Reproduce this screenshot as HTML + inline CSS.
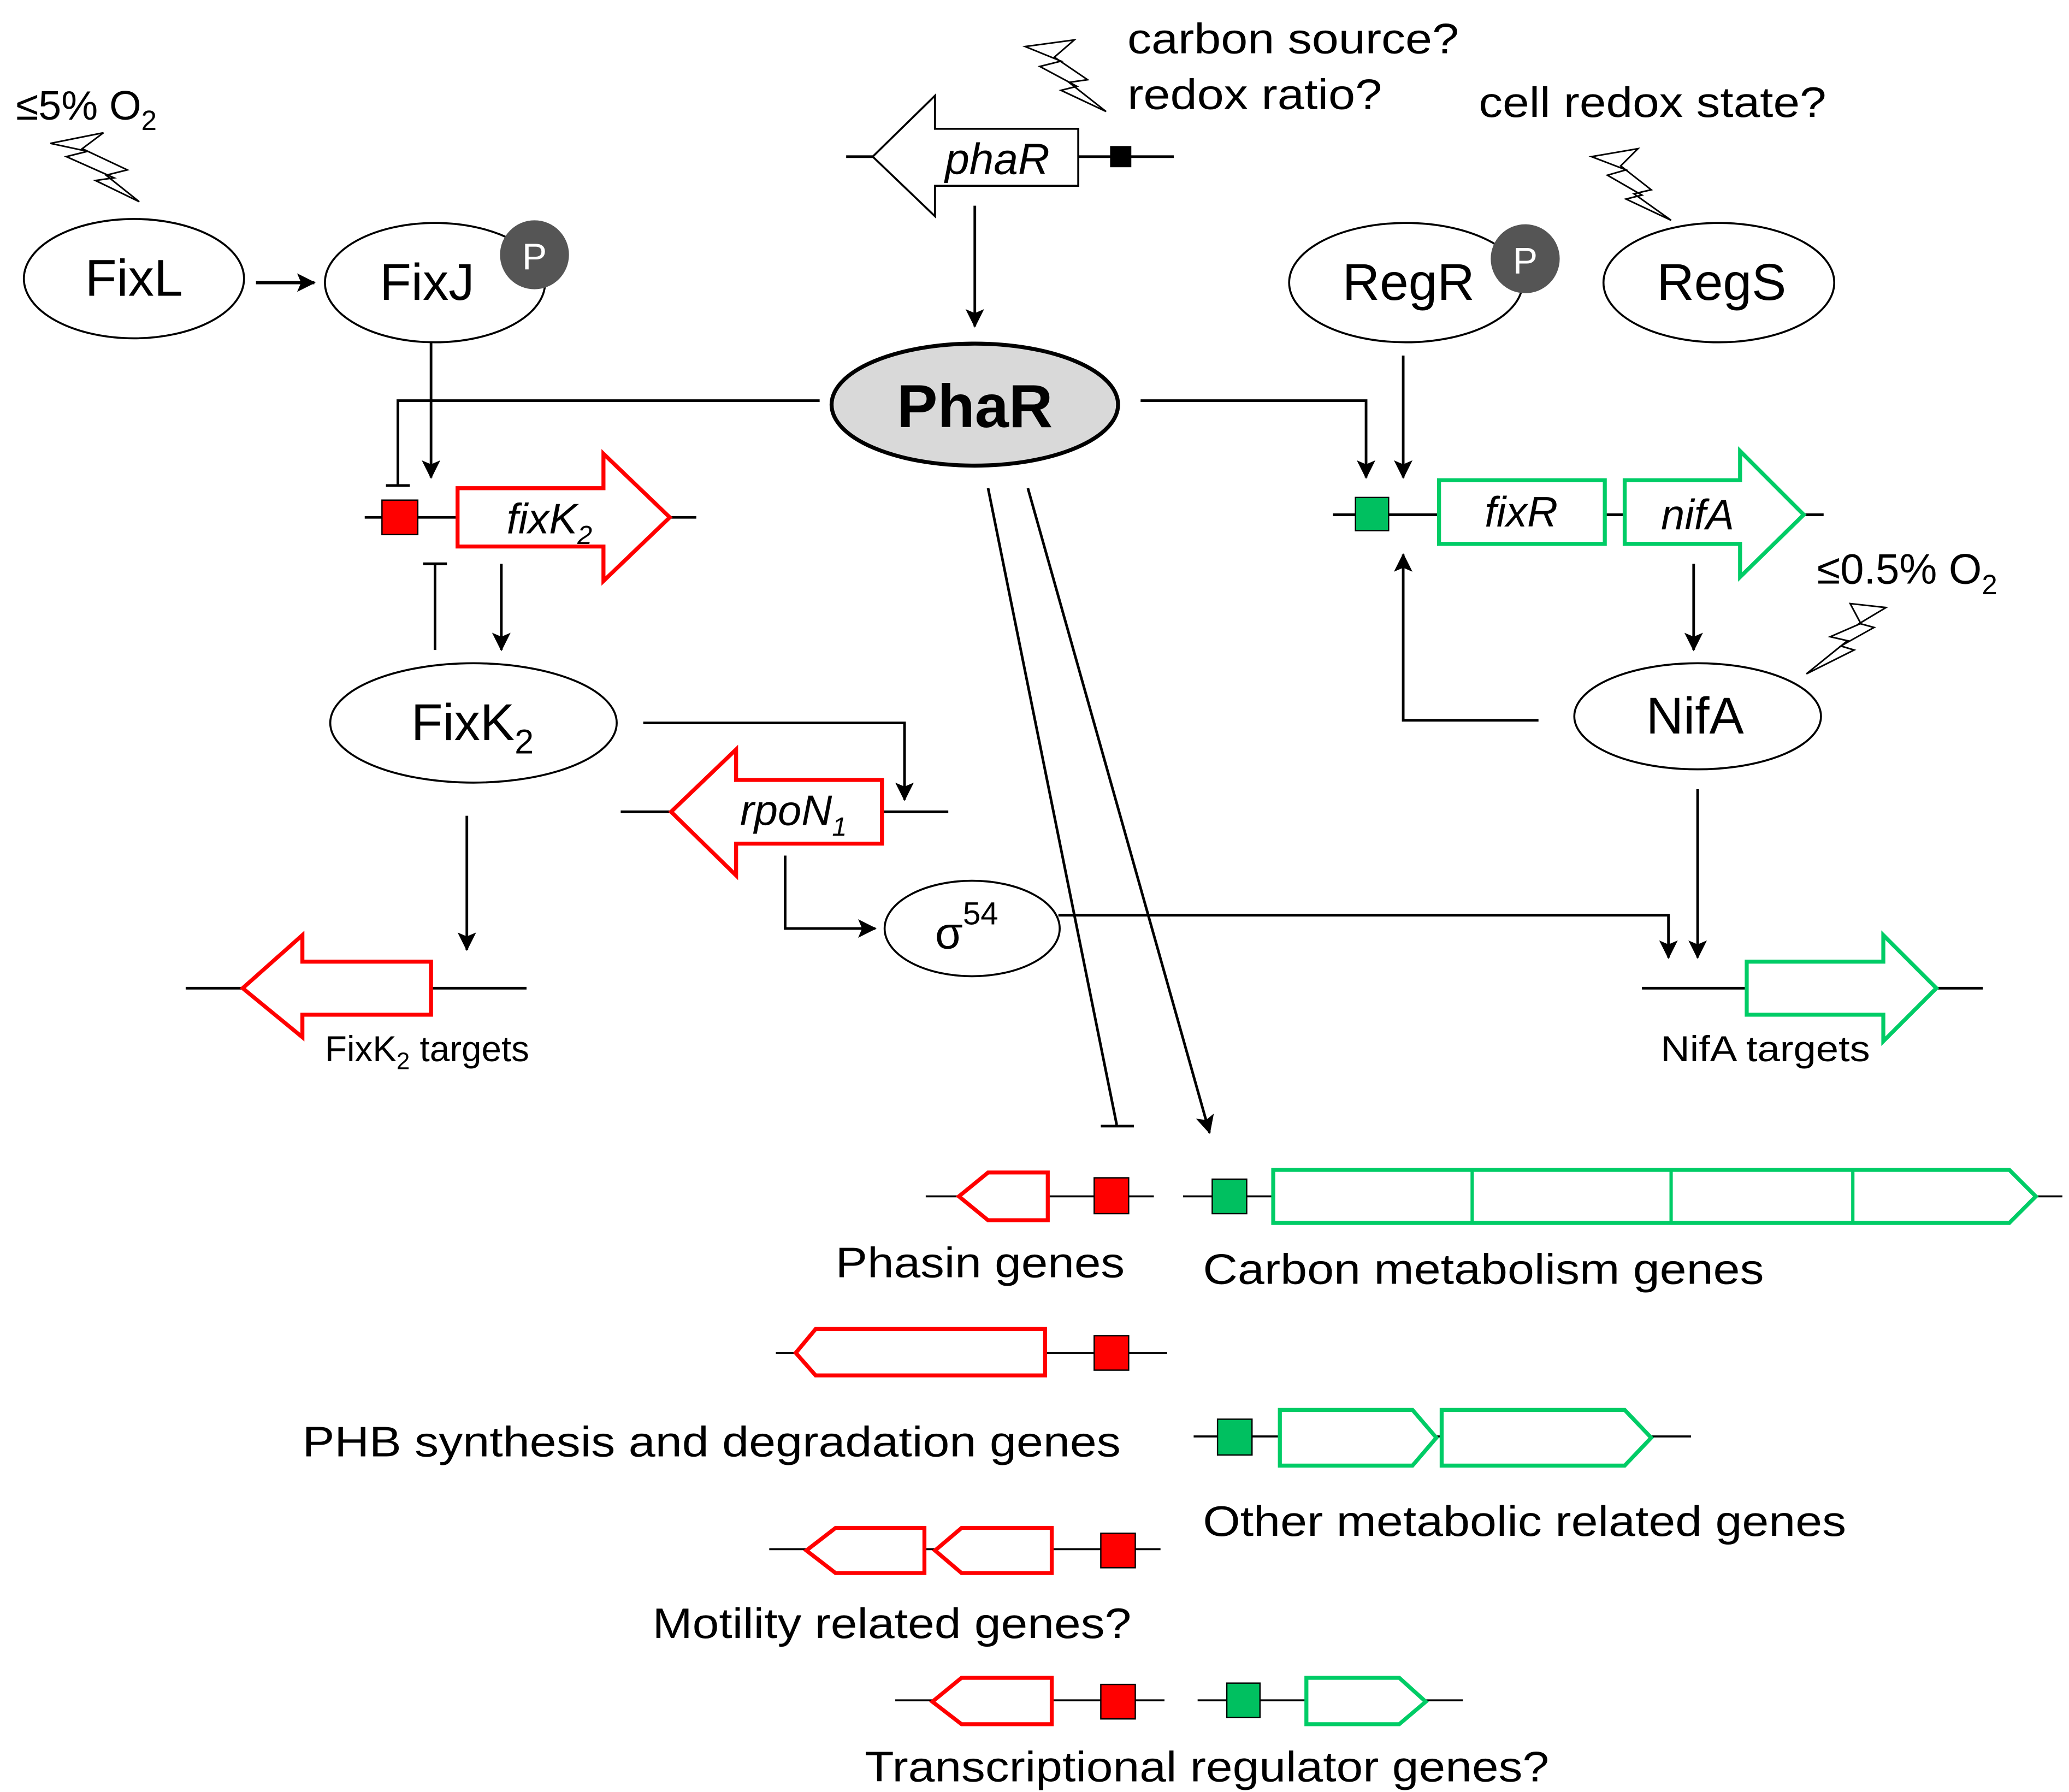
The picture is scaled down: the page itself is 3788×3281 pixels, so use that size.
<!DOCTYPE html>
<html><head><meta charset="utf-8"><style>
html,body{margin:0;padding:0;background:#fff;}
svg{display:block;}
text{font-family:"Liberation Sans",Arial,sans-serif;fill:#000;}
</style></head><body>
<svg width="3788" height="3281" viewBox="0 0 1560 1351" xmlns="http://www.w3.org/2000/svg">
<defs>
<marker id="a2" markerWidth="14" markerHeight="14" refX="13" refY="7" orient="auto" markerUnits="userSpaceOnUse"><path d="M0,0 L14,7 L0,14 L3,7z" fill="#000"/></marker>
</defs>
<g stroke="#000" stroke-width="2" fill="none">
<path d="M38,108 L78,100 L62,112 L96,128 L80,132 L105,152 L72,136 L86,134 L50,118 L66,114z" stroke-width="1.2"/>
<path d="M773,35 L810,30 L795,43 L820,60 L806,62 L834,84 L800,68 L812,65 L784,50 L800,46z" stroke-width="1.2"/>
<path d="M1200,118 L1235,112 L1222,125 L1245,143 L1232,146 L1260,166 L1226,150 L1238,147 L1212,132 L1226,128z" stroke-width="1.2"/>
<path d="M1422,458 L1395,455 L1403,470 L1380,480 L1393,483 L1362,508 L1398,490 L1388,487 L1413,473 L1402,470z" stroke-width="1.2"/>
</g>
<text x="12" y="90" font-size="31">≤5% O<tspan font-size="21" dy="8">2</tspan></text>
<ellipse cx="101" cy="210" rx="83" ry="45" fill="#fff" stroke="#000" stroke-width="1.5"/>
<text x="101" y="223" font-size="39" text-anchor="middle">FixL</text>
<line x1="193" y1="213" x2="237" y2="213" stroke="#000" stroke-width="2.5" marker-end="url(#a2)"/>
<ellipse cx="328" cy="213" rx="83" ry="45" fill="#fff" stroke="#000" stroke-width="1.5"/>
<text x="322" y="226" font-size="39" text-anchor="middle">FixJ</text>
<circle cx="403" cy="192" r="26" fill="#555"/>
<text x="403" y="203" font-size="28" text-anchor="middle" style="fill:#fff">P</text>
<line x1="638" y1="118" x2="885" y2="118" stroke="#000" stroke-width="2"/>
<path d="M658,118 L705,72 L705,97 L813,97 L813,140 L705,140 L705,163z" fill="#fff" stroke="#000" stroke-width="1.5"/>
<rect x="837" y="110" width="16" height="16" fill="#000"/>
<text x="752" y="131" font-size="33" font-style="italic" text-anchor="middle">phaR</text>
<text x="850" y="40" font-size="32" textLength="250" lengthAdjust="spacingAndGlyphs">carbon source?</text>
<text x="850" y="82" font-size="32" textLength="192" lengthAdjust="spacingAndGlyphs">redox ratio?</text>
<text x="1115" y="88" font-size="32" textLength="262" lengthAdjust="spacingAndGlyphs">cell redox state?</text>
<line x1="735" y1="155" x2="735" y2="246" stroke="#000" stroke-width="2" marker-end="url(#a2)"/>
<ellipse cx="735" cy="305" rx="108" ry="46" fill="#d9d9d9" stroke="#000" stroke-width="3"/>
<text x="735" y="322" font-size="46" font-weight="bold" text-anchor="middle">PhaR</text>
<polyline points="618,302 300,302 300,366" fill="none" stroke="#000" stroke-width="2"/>
<line x1="291" y1="366" x2="309" y2="366" stroke="#000" stroke-width="2"/>
<line x1="325" y1="258" x2="325" y2="360" stroke="#000" stroke-width="2" marker-end="url(#a2)"/>
<line x1="275" y1="390" x2="525" y2="390" stroke="#000" stroke-width="2"/>
<rect x="288" y="377" width="27" height="26" fill="#f00" stroke="#000" stroke-width="1"/>
<path d="M345,368 L455,368 L455,342 L505,390 L455,438 L455,412 L345,412z" fill="#fff" stroke="#f00" stroke-width="3"/>
<text x="382" y="402" font-size="32" font-style="italic">fixK<tspan font-size="20" dy="8">2</tspan></text>
<line x1="328" y1="490" x2="328" y2="425" stroke="#000" stroke-width="2"/>
<line x1="319" y1="425" x2="337" y2="425" stroke="#000" stroke-width="2"/>
<line x1="378" y1="425" x2="378" y2="490" stroke="#000" stroke-width="2" marker-end="url(#a2)"/>
<ellipse cx="357" cy="545" rx="108" ry="45" fill="#fff" stroke="#000" stroke-width="1.5"/>
<text x="310" y="558" font-size="39">FixK<tspan font-size="26" dy="10">2</tspan></text>
<polyline points="485,545 682,545 682,603" fill="none" stroke="#000" stroke-width="2" marker-end="url(#a2)"/>
<line x1="468" y1="612" x2="715" y2="612" stroke="#000" stroke-width="2"/>
<path d="M506,612 L555,565 L555,588 L665,588 L665,636 L555,636 L555,660z" fill="#fff" stroke="#f00" stroke-width="3"/>
<text x="558" y="622" font-size="32" font-style="italic">rpoN<tspan font-size="20" dy="8">1</tspan></text>
<polyline points="592,645 592,700 660,700" fill="none" stroke="#000" stroke-width="2" marker-end="url(#a2)"/>
<ellipse cx="733" cy="700" rx="66" ry="36" fill="#fff" stroke="#000" stroke-width="1.5"/>
<text x="705" y="715" font-size="34">σ<tspan font-size="24" dy="-18">54</tspan></text>
<polyline points="798,690 1258,690 1258,722" fill="none" stroke="#000" stroke-width="2" marker-end="url(#a2)"/>
<line x1="352" y1="615" x2="352" y2="716" stroke="#000" stroke-width="2" marker-end="url(#a2)"/>
<line x1="140" y1="745" x2="397" y2="745" stroke="#000" stroke-width="2"/>
<path d="M183,745 L228,705 L228,725 L325,725 L325,765 L228,765 L228,782z" fill="#fff" stroke="#f00" stroke-width="3"/>
<text x="245" y="800" font-size="27">FixK<tspan font-size="18" dy="6">2</tspan><tspan dy="-6"> targets</tspan></text>
<ellipse cx="1060" cy="213" rx="88" ry="45" fill="#fff" stroke="#000" stroke-width="1.5"/>
<text x="1062" y="226" font-size="39" text-anchor="middle">RegR</text>
<circle cx="1150" cy="195" r="26" fill="#555"/>
<text x="1150" y="206" font-size="28" text-anchor="middle" style="fill:#fff">P</text>
<ellipse cx="1296" cy="213" rx="87" ry="45" fill="#fff" stroke="#000" stroke-width="1.5"/>
<text x="1298" y="226" font-size="39" text-anchor="middle">RegS</text>
<polyline points="860,302 1030,302 1030,360" fill="none" stroke="#000" stroke-width="2" marker-end="url(#a2)"/>
<line x1="1058" y1="268" x2="1058" y2="360" stroke="#000" stroke-width="2" marker-end="url(#a2)"/>
<line x1="1005" y1="388" x2="1375" y2="388" stroke="#000" stroke-width="2"/>
<rect x="1022" y="375" width="25" height="25" fill="#00c060" stroke="#000" stroke-width="1"/>
<rect x="1085" y="362" width="125" height="48" fill="#fff" stroke="#00cc66" stroke-width="3"/>
<text x="1147" y="397" font-size="32" font-style="italic" text-anchor="middle">fixR</text>
<path d="M1225,362 L1312,362 L1312,340 L1360,388 L1312,435 L1312,410 L1225,410z" fill="#fff" stroke="#00cc66" stroke-width="3"/>
<text x="1280" y="399" font-size="32" font-style="italic" text-anchor="middle">nifA</text>
<line x1="1277" y1="425" x2="1277" y2="490" stroke="#000" stroke-width="2" marker-end="url(#a2)"/>
<text x="1370" y="440" font-size="32">≤0.5% O<tspan font-size="21" dy="8">2</tspan></text>
<ellipse cx="1280" cy="540" rx="93" ry="40" fill="#fff" stroke="#000" stroke-width="1.5"/>
<text x="1278" y="553" font-size="39" text-anchor="middle">NifA</text>
<polyline points="1160,543 1058,543 1058,418" fill="none" stroke="#000" stroke-width="2" marker-end="url(#a2)"/>
<line x1="1280" y1="595" x2="1280" y2="722" stroke="#000" stroke-width="2" marker-end="url(#a2)"/>
<line x1="1238" y1="745" x2="1495" y2="745" stroke="#000" stroke-width="2"/>
<path d="M1317,725 L1420,725 L1420,705 L1460,745 L1420,785 L1420,765 L1317,765z" fill="#fff" stroke="#00cc66" stroke-width="3"/>
<text x="1252" y="800" font-size="27" textLength="158" lengthAdjust="spacingAndGlyphs">NifA targets</text>
<line x1="745" y1="368" x2="842" y2="848" stroke="#000" stroke-width="2"/>
<line x1="830" y1="849" x2="855" y2="849" stroke="#000" stroke-width="2"/>
<line x1="775" y1="368" x2="912" y2="854" stroke="#000" stroke-width="2" marker-end="url(#a2)"/>
<line x1="698" y1="902" x2="870" y2="902" stroke="#000" stroke-width="1.5"/>
<path d="M723,902 L745,884 L790,884 L790,920 L745,920z" fill="#fff" stroke="#f00" stroke-width="3"/>
<rect x="825" y="888" width="26" height="27" fill="#f00" stroke="#000" stroke-width="1"/>
<text x="630" y="963" font-size="32" textLength="218" lengthAdjust="spacingAndGlyphs">Phasin genes</text>
<line x1="892" y1="902" x2="1555" y2="902" stroke="#000" stroke-width="1.5"/>
<rect x="914" y="889" width="26" height="26" fill="#00c060" stroke="#000" stroke-width="1"/>
<path d="M960,882 L1515,882 L1535,902 L1515,922 L960,922z" fill="#fff" stroke="#00cc66" stroke-width="3"/>
<g stroke="#00cc66" stroke-width="2.5"><line x1="1110" y1="882" x2="1110" y2="922"/><line x1="1260" y1="882" x2="1260" y2="922"/><line x1="1397" y1="882" x2="1397" y2="922"/></g>
<text x="907" y="968" font-size="32" textLength="423" lengthAdjust="spacingAndGlyphs">Carbon metabolism genes</text>
<line x1="585" y1="1020" x2="880" y2="1020" stroke="#000" stroke-width="1.5"/>
<path d="M600,1020 L615,1002 L788,1002 L788,1037 L615,1037z" fill="#fff" stroke="#f00" stroke-width="3"/>
<rect x="825" y="1007" width="26" height="26" fill="#f00" stroke="#000" stroke-width="1"/>
<text x="228" y="1098" font-size="32" textLength="617" lengthAdjust="spacingAndGlyphs">PHB synthesis and degradation genes</text>
<line x1="900" y1="1083" x2="1275" y2="1083" stroke="#000" stroke-width="1.5"/>
<rect x="918" y="1070" width="26" height="27" fill="#00c060" stroke="#000" stroke-width="1"/>
<path d="M965,1063 L1065,1063 L1083,1084 L1065,1105 L965,1105z" fill="#fff" stroke="#00cc66" stroke-width="3"/>
<path d="M1087,1063 L1225,1063 L1245,1084 L1225,1105 L1087,1105z" fill="#fff" stroke="#00cc66" stroke-width="3"/>
<text x="907" y="1158" font-size="32" textLength="485" lengthAdjust="spacingAndGlyphs">Other metabolic related genes</text>
<line x1="580" y1="1168" x2="875" y2="1168" stroke="#000" stroke-width="1.5"/>
<path d="M608,1169 L630,1152 L697,1152 L697,1186 L630,1186z" fill="#fff" stroke="#f00" stroke-width="3"/>
<path d="M705,1169 L725,1152 L793,1152 L793,1186 L725,1186z" fill="#fff" stroke="#f00" stroke-width="3"/>
<rect x="830" y="1156" width="26" height="26" fill="#f00" stroke="#000" stroke-width="1"/>
<text x="492" y="1235" font-size="32" textLength="361" lengthAdjust="spacingAndGlyphs">Motility related genes?</text>
<line x1="675" y1="1282" x2="878" y2="1282" stroke="#000" stroke-width="1.5"/>
<path d="M703,1283 L725,1265 L793,1265 L793,1300 L725,1300z" fill="#fff" stroke="#f00" stroke-width="3"/>
<rect x="830" y="1270" width="26" height="26" fill="#f00" stroke="#000" stroke-width="1"/>
<line x1="903" y1="1282" x2="1103" y2="1282" stroke="#000" stroke-width="1.5"/>
<rect x="925" y="1269" width="25" height="26" fill="#00c060" stroke="#000" stroke-width="1"/>
<path d="M985,1265 L1055,1265 L1075,1283 L1055,1300 L985,1300z" fill="#fff" stroke="#00cc66" stroke-width="3"/>
<text x="652" y="1343" font-size="32" textLength="516" lengthAdjust="spacingAndGlyphs">Transcriptional regulator genes?</text>
</svg>
</body></html>
